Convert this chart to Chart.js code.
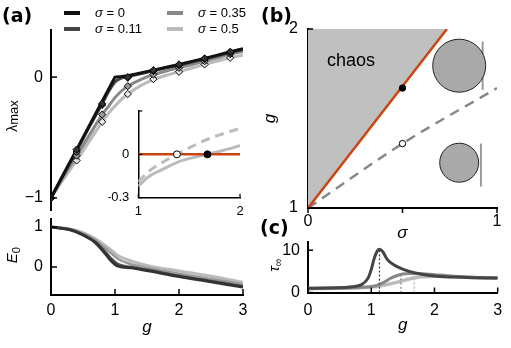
<!DOCTYPE html>
<html><head><meta charset="utf-8">
<script src="https://cdn.jsdelivr.net/npm/chart.js@4.4.1/dist/chart.umd.min.js"></script>
<style>
html,body{margin:0;padding:0;background:#fff;}
#wrap{position:relative;width:511px;height:348px;overflow:hidden;background:#fff;}
canvas{position:absolute;left:0;top:0;}
.t{position:absolute;white-space:nowrap;color:#000;line-height:1;font-family:'Liberation Sans',Arial,sans-serif;}
.pl{font-family:'DejaVu Sans',sans-serif;font-weight:bold;font-size:19px;transform:translateY(-50%);}
.rot{transform:translate(-50%,-50%) rotate(-90deg);}
sub{font-size:0.75em;vertical-align:-0.3em;line-height:1;font-style:normal;}
</style></head><body>
<div id="wrap">
<canvas id="cA" width="511" height="348"></canvas>
<canvas id="cI" width="511" height="348"></canvas>
<canvas id="cE" width="511" height="348"></canvas>
<canvas id="cB" width="511" height="348"></canvas>
<canvas id="cC" width="511" height="348"></canvas>
<div class="t pl" style="left:2px;top:15px">(a)</div>
<div class="t pl" style="left:261px;top:15px">(b)</div>
<div class="t pl" style="left:260px;top:227px">(c)</div>
<div class="t rot" style="left:12px;top:116px;font-size:14px">λ<sub style="font-size:13px;vertical-align:-1px">max</sub></div>
<div class="t rot" style="left:13px;top:255px;font-size:15px"><i>E</i><sub>0</sub></div>
<div class="t rot" style="left:275px;top:265px;font-size:15px"><i>τ</i><sub>∞</sub></div>
</div>
<script>
const FONT = "'Liberation Sans', Arial, sans-serif";
// ---------------- data ----------------
const sigmaLabels = ['σ = 0', 'σ = 0.11', 'σ = 0.35', 'σ = 0.5'];

// (a) top: largest Lyapunov exponent
const lamG    = [0,0.2,0.4,0.6,0.8,0.9,1.0,1.1,1.2,1.4,1.6,1.8,2.0,2.2,2.4,2.6,2.8,3.0];
const lamS0   = [-1,-0.8,-0.6,-0.4,-0.2,-0.1,0.0,0.005,0.012,0.035,0.058,0.082,0.105,0.13,0.155,0.182,0.21,0.235];
const lamS011 = [-1,-0.8,-0.61,-0.41,-0.22,-0.12,-0.04,-0.008,0.004,0.028,0.052,0.077,0.1,0.125,0.15,0.176,0.203,0.228];
const lamS035 = [-1,-0.82,-0.65,-0.48,-0.31,-0.24,-0.17,-0.115,-0.075,-0.02,0.02,0.05,0.077,0.105,0.132,0.16,0.19,0.212];
const lamS05  = [-1,-0.84,-0.69,-0.53,-0.37,-0.3,-0.24,-0.185,-0.14,-0.07,-0.02,0.015,0.045,0.075,0.105,0.133,0.16,0.182];
const diaG    = [0,0.4,0.8,1.2,1.6,2.0,2.4,2.8];
const diaS0   = [-1,-0.6,-0.22,0.0,0.058,0.105,0.155,0.21];
const diaS011 = [-1,-0.62,-0.23,-0.005,0.05,0.098,0.15,0.2];
const diaS035 = [-1,-0.65,-0.31,-0.075,0.022,0.077,0.132,0.19];
const diaS05  = [-1,-0.69,-0.37,-0.14,-0.017,0.044,0.105,0.16];
const aYTicks = [-1, 0];
const aYLabels = ['−1', '0'];

// (a) inset
const insG     = [1.0,1.1,1.25,1.4,1.55,1.68,1.85,2.0];
const insSolid = [-0.22,-0.155,-0.1,-0.05,-0.02,0,0.03,0.06];
const insDashG = [1.0,1.1,1.25,1.38,1.5,1.65,1.8,2.0];
const insDash  = [-0.19,-0.12,-0.05,0,0.045,0.095,0.135,0.18];
const insZeroG = [1, 2];
const insZeroY = [0, 0];
const insOpen  = [1.38, 0];
const insFilled = [1.68, 0];
const iXTicks = [1, 2], iXLabels = ['1', '2'];
const iYTicks = [-0.3, 0, 0.3], iYLabels = ['-0.3', '0', ''];

// (a) bottom: E0
const eG    = [0,0.3,0.5,0.7,0.85,0.95,1.05,1.25,1.5,2,2.5,3];
const eS0   = [1,0.93,0.8,0.6,0.33,0.14,0.02,-0.02,-0.09,-0.24,-0.37,-0.5];
const eS011 = [1,0.93,0.81,0.62,0.38,0.2,0.07,0.0,-0.07,-0.22,-0.35,-0.48];
const eS035 = [1,0.94,0.84,0.67,0.47,0.33,0.2,0.07,-0.02,-0.17,-0.3,-0.43];
const eS05  = [1,0.95,0.86,0.7,0.53,0.41,0.28,0.15,0.04,-0.1,-0.23,-0.38];
const gTicks = [0, 1, 2, 3], gLabels = ['0', '1', '2', '3'];
const eYTicks = [0, 1], eYLabels = ['0', '1'];

// (b) phase diagram
const chaosS = [0, 0.735], chaosG = [1, 2];
const dashS = [0, 0.5, 1], dashG = [1, 1.36, 1.67];
const critFilled = [0.5, 1.67];
const critOpen = [0.5, 1.36];
const circleS = [0.8, 0.8], circleG = [1.795, 1.253];
const barBigS = [0.924, 0.924], barBigG = [1.66, 1.93];
const barSmallS = [0.915, 0.915], barSmallG = [1.12, 1.36];
const chaosText = 'chaos', chaosTextPos = [0.1, 1.82];
const bXTicks = [0, 0.5, 1], bXLabels = ['0', '', '1'];
const bYTicks = [1, 2], bYLabels = ['1', '2'];

// (c) tau_infinity
const tG011 = [0,0.3,0.5,0.7,0.85,0.95,1.0,1.05,1.1,1.13,1.18,1.25,1.35,1.45,1.6,1.8,2.0,2.3,2.6,3.0];
const tS011 = [1.0,1.05,1.1,1.35,1.9,3.4,5.4,8.2,9.9,10.2,9.7,7.9,6.6,5.8,5.0,4.3,3.9,3.65,3.5,3.4];
const tG035 = [0,0.5,0.8,1.0,1.1,1.2,1.3,1.4,1.5,1.6,1.8,2.0,2.3,2.6,3.0];
const tS035 = [1.0,1.05,1.2,1.4,1.75,2.4,3.3,3.95,4.35,4.5,4.45,4.2,3.85,3.6,3.4];
const tG05  = [0,0.5,0.8,1.0,1.2,1.4,1.6,1.7,1.8,2.0,2.2,2.5,3.0];
const tS05  = [0.9,1.0,1.1,1.3,1.7,2.4,3.2,3.5,3.7,3.85,3.8,3.6,3.4];
const tPeakG = [1.13, 1.47, 1.68];
const tPeakV = [10.2, 4.3, 3.45];
const cYTicks = [0, 10], cYLabels = ['0', '10'];

// ---------------- helpers ----------------
const COL = ['#111111', '#444444', '#888888', '#bbbbbb'];
const DIA = ['#333333', '#666666', '#999999', '#e8e8e8'];
const ORANGE = '#cc4411';
const pairs = (xs, ys) => xs.map((x, i) => ({x, y: ys[i]}));

function line(xs, ys, color, width, extra) {
  return Object.assign({type: 'line', data: pairs(xs, ys), borderColor: color, backgroundColor: color,
    borderWidth: width, pointRadius: 0, cubicInterpolationMode: 'monotone', fill: false}, extra || {});
}
function pts(xs, ys, fill, r, extra) {
  return Object.assign({type: 'scatter', data: pairs(xs, ys), showLine: false, pointRadius: r,
    backgroundColor: fill, borderColor: '#000', borderWidth: 1, pointStyle: 'circle'}, extra || {});
}
function mkAxis(c) {
  return {
    type: 'linear', min: c.min, max: c.max, display: c.display !== false,
    afterBuildTicks: s => { s.ticks = c.ticks.map(v => ({value: v})); },
    afterFit: s => { if (s.isHorizontal()) s.height = c.size; else s.width = c.size; },
    grid: {display: false, drawTicks: false},
    border: {display: true, color: '#000', width: c.bw || 2},
    ticks: {padding: c.pad, autoSkip: false, maxRotation: 0, color: '#000',
      font: {family: FONT, size: c.fs || 16},
      callback: (v, i) => c.labels[i]},
    title: c.title ? {display: true, text: c.title, color: '#000', padding: c.tpad || 0,
      font: {family: FONT, size: c.tfs || 17, style: 'italic'}} : {display: false}
  };
}
const inTicksPlugin = {
  id: 'inTicks',
  afterDraw(chart, args, opts) {
    const ctx = chart.ctx;
    ctx.save();
    ctx.strokeStyle = '#000';
    for (const id of ['x', 'y']) {
      const o = opts[id];
      if (!o) continue;
      const s = chart.scales[id];
      ctx.lineWidth = o.width || 1.5;
      for (const t of s.ticks) {
        const p = s.getPixelForValue(t.value);
        ctx.beginPath();
        if (id === 'x') { ctx.moveTo(p, s.top); ctx.lineTo(p, s.top - o.len); }
        else { ctx.moveTo(s.right, p); ctx.lineTo(s.right + o.len, p); }
        ctx.stroke();
      }
    }
    ctx.restore();
  }
};
const legendPlugin = {
  id: 'sigLegend',
  afterDraw(chart) {
    const ctx = chart.ctx;
    const colX = [64, 167], rowY = [13, 29], textGap = 15, lineLen = 16;
    ctx.save();
    sigmaLabels.forEach((lab, i) => {
      const cx = colX[Math.floor(i / 2)], cy = rowY[i % 2];
      ctx.strokeStyle = COL[i]; ctx.lineWidth = 4;
      ctx.beginPath(); ctx.moveTo(cx, cy); ctx.lineTo(cx + lineLen, cy); ctx.stroke();
      ctx.fillStyle = '#000'; ctx.textBaseline = 'middle'; ctx.textAlign = 'left';
      const tx = cx + lineLen + textGap;
      ctx.font = "italic 13px " + FONT;
      ctx.fillText(lab.charAt(0), tx, cy);
      const w = ctx.measureText(lab.charAt(0)).width;
      ctx.font = "13px " + FONT;
      ctx.fillText(lab.slice(1), tx + w, cy);
    });
    ctx.restore();
  }
};
const chaosPlugin = {
  id: 'chaosText',
  afterDatasetsDraw(chart) {
    const ctx = chart.ctx;
    ctx.save();
    ctx.fillStyle = '#000'; ctx.font = "18px " + FONT;
    ctx.textAlign = 'left'; ctx.textBaseline = 'middle';
    ctx.fillText(chaosText, chart.scales.x.getPixelForValue(chaosTextPos[0]), chart.scales.y.getPixelForValue(chaosTextPos[1]));
    ctx.restore();
  }
};
function mk(id, datasets, scales, padding, tickOpts, extra) {
  return new Chart(document.getElementById(id), {
    type: 'scatter',
    data: {datasets},
    options: {
      responsive: false, animation: false, devicePixelRatio: 1, events: [],
      layout: {padding, autoPadding: false},
      scales,
      plugins: {legend: {display: false}, tooltip: {enabled: false}, inTicks: tickOpts}
    },
    plugins: [inTicksPlugin].concat(extra || [])
  });
}

// ---------------- (a) top ----------------
mk('cA', [
  pts(diaG, diaS0, DIA[0], 3.6, {pointStyle: 'rectRot'}),
  pts(diaG, diaS011, DIA[1], 3.6, {pointStyle: 'rectRot'}),
  pts(diaG, diaS035, DIA[2], 3.6, {pointStyle: 'rectRot'}),
  pts(diaG, diaS05, DIA[3], 3.6, {pointStyle: 'rectRot'}),
  line(lamG, lamS0, COL[0], 3, {cubicInterpolationMode: 'default', tension: 0}),
  line(lamG, lamS011, COL[1], 3),
  line(lamG, lamS035, COL[2], 3),
  line(lamG, lamS05, COL[3], 3)
], {
  x: mkAxis({min: 0, max: 3, ticks: gTicks, labels: gLabels, size: 0, pad: 0, display: false}),
  y: mkAxis({min: -1.1, max: 0.39, ticks: aYTicks, labels: aYLabels, size: 51, pad: 8})
}, {left: 0, right: 268, top: 30, bottom: 138}, {y: {len: 6, width: 1.5}}, [legendPlugin]);

// ---------------- (a) inset ----------------
mk('cI', [
  pts([insFilled[0]], [insFilled[1]], '#000', 3.5),
  pts([insOpen[0]], [insOpen[1]], '#fff', 3.5),
  line(insZeroG, insZeroY, ORANGE, 2.5),
  line(insG, insSolid, COL[3], 3),
  line(insDashG, insDash, COL[3], 3, {borderDash: [9, 6]})
], {
  x: mkAxis({min: 1, max: 2, ticks: iXTicks, labels: iXLabels, size: 30, pad: 6, fs: 13, bw: 1.5}),
  y: mkAxis({min: -0.3, max: 0.3, ticks: iYTicks, labels: iYLabels, size: 30, pad: 9, fs: 13, bw: 1.5})
}, {left: 108.3, right: 271, top: 111, bottom: 120.3}, {x: {len: 4, width: 1.2}, y: {len: 4, width: 1.2}});

// ---------------- (a) bottom ----------------
mk('cE', [
  line(eG, eS0, '#333333', 3),
  line(eG, eS011, '#555555', 2.5),
  line(eG, eS035, '#999999', 2.5),
  line(eG, eS05, COL[3], 3)
], {
  x: mkAxis({min: 0, max: 3, ticks: gTicks, labels: gLabels, size: 42.2, pad: 6, title: 'g', tfs: 17}),
  y: mkAxis({min: -0.7, max: 1.2, ticks: eYTicks, labels: eYLabels, size: 51, pad: 8})
}, {left: 0, right: 268, top: 219, bottom: 10.8}, {x: {len: 6, width: 1.5}, y: {len: 6, width: 1.5}});

// ---------------- (b) ----------------
mk('cB', [
  pts([critFilled[0]], [critFilled[1]], '#000', 3.2),
  pts([critOpen[0]], [critOpen[1]], '#fff', 3.2),
  pts([circleS[0]], [circleG[0]], '#a9a9a9', 26.5, {borderColor: '#222'}),
  pts([circleS[1]], [circleG[1]], '#a9a9a9', 19.5, {borderColor: '#222'}),
  line(barBigS, barBigG, '#999999', 2),
  line(barSmallS, barSmallG, '#999999', 2),
  line(chaosS, chaosG, ORANGE, 2.5, {fill: 'end', backgroundColor: '#c0c0c0'}),
  line(dashS, dashG, '#888888', 2.5, {borderDash: [10, 7]})
], {
  x: mkAxis({min: 0, max: 1, ticks: bXTicks, labels: bXLabels, size: 35, pad: 4, title: 'σ', tfs: 17}),
  y: mkAxis({min: 1, max: 2, ticks: bYTicks, labels: bYLabels, size: 48, pad: 10, title: 'g', tfs: 17})
}, {left: 260, right: 14, top: 29, bottom: 105}, {x: {len: -5, width: 1.5}, y: {len: 5, width: 1.5}}, [chaosPlugin]);

// ---------------- (c) ----------------
mk('cC', [
  line([tPeakG[0], tPeakG[0]], [0, tPeakV[0]], '#444444', 1.3, {borderDash: [2, 2]}),
  line([tPeakG[1], tPeakG[1]], [0, tPeakV[1]], '#888888', 1.3, {borderDash: [2, 2]}),
  line([tPeakG[2], tPeakG[2]], [0, tPeakV[2]], '#bbbbbb', 1.3, {borderDash: [2, 2]}),
  line(tG011, tS011, '#444444', 3),
  line(tG035, tS035, '#888888', 3),
  line(tG05, tS05, '#bbbbbb', 3.5)
], {
  x: mkAxis({min: 0, max: 3, ticks: gTicks, labels: gLabels, size: 42.5, pad: 8, title: 'g', tfs: 17}),
  y: mkAxis({min: 0, max: 12, ticks: cYTicks, labels: cYLabels, size: 40, pad: 8})
}, {left: 268, right: 13.3, top: 241.7, bottom: 13}, {x: {len: 5, width: 1.5}, y: {len: 5, width: 1.5}});
</script>
</body></html>
